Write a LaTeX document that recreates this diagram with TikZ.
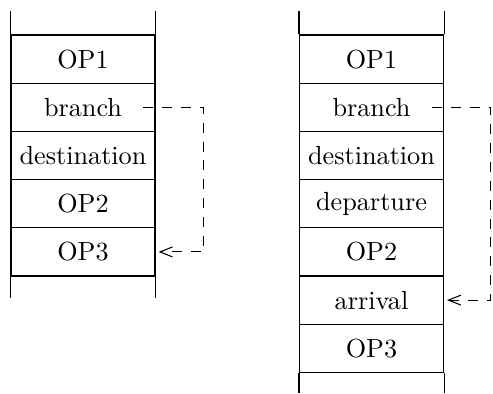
\documentclass[tikz,border=0pt]{standalone}
\usetikzlibrary{arrows.meta}
\begin{document}
\begin{tikzpicture}[x=0.3817pt,y=-0.3817pt,
  cell/.style={draw, line width=0.4pt, minimum width=54.96pt, minimum height=18.4pt, inner sep=0pt, anchor=center},
  rail/.style={line width=0.4pt},
  jump/.style={line width=0.4pt, dash pattern=on 3.8pt off 3.4pt,
    -{Straight Barb[length=4.8pt,width=3.8pt,line width=0.4pt]}}]
\useasboundingbox (0,0) rectangle (493,393);

% left code block
\node[cell] (L1) at (83,59.1)  {OP1};
\node[cell] (L2) at (83,107.3) {branch};
\node[cell] (L3) at (83,155.5) {destination};
\node[cell] (L4) at (83,203.7) {OP2};
\node[cell] (L5) at (83,251.9) {OP3};
\draw[rail] (L1.north west) -- ++(0,-23);
\draw[rail] (L1.north east) -- ++(0,-23);
\draw[rail] (L5.south west) -- ++(0,21);
\draw[rail] (L5.south east) -- ++(0,21);

% right code block
\node[cell] (R1) at (371.5,59.1)  {OP1};
\node[cell] (R2) at (371.5,107.3) {branch};
\node[cell] (R3) at (371.5,155.5) {destination};
\node[cell] (R4) at (371.5,203.7) {departure};
\node[cell] (R5) at (371.5,251.9) {OP2};
\node[cell] (R6) at (371.5,300.1) {arrival};
\node[cell] (R7) at (371.5,348.3) {OP3};
\draw[rail] (R1.north west) -- ++(0,-23);
\draw[rail] (R1.north east) -- ++(0,-23);
\draw[rail] (R7.south west) -- ++(0,20);
\draw[rail] (R7.south east) -- ++(0,20);

% jumps
\draw[jump] ([xshift=-4.6pt]L2.east) -- ++(60,0) |- ([xshift=1.15pt]L5.east);
\draw[jump] ([xshift=-4.6pt]R2.east) -- ++(58.5,0) |- ([xshift=1.15pt]R6.east);
\end{tikzpicture}
\end{document}
